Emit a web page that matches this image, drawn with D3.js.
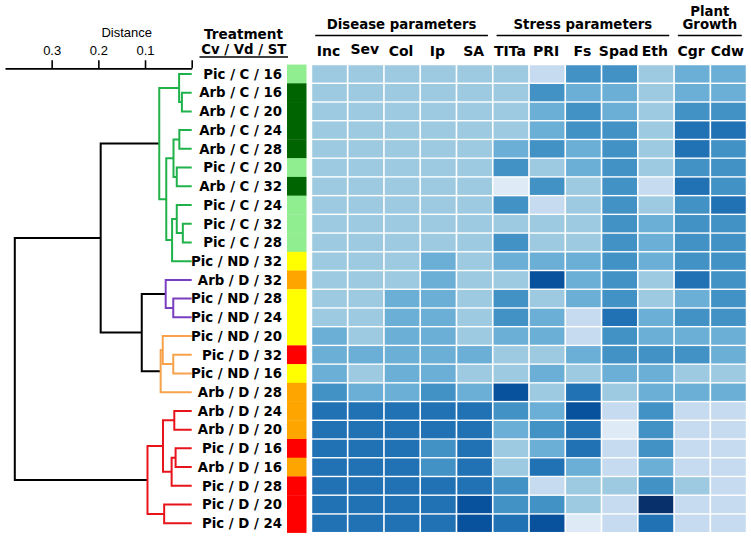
<!DOCTYPE html>
<html>
<head>
<meta charset="utf-8">
<script src="https://cdn.jsdelivr.net/npm/d3@7"></script>
<style>
  html, body { margin: 0; padding: 0; background: #fff; }
  svg { display: block; }
</style>
</head>
<body>
<svg id="chart" width="751" height="537"></svg>
<script>
// ---------------- DATA ----------------
const treatments = [
  "Pic / C / 16", "Arb / C / 16", "Arb / C / 20", "Arb / C / 24", "Arb / C / 28",
  "Pic / C / 20", "Arb / C / 32", "Pic / C / 24", "Pic / C / 32", "Pic / C / 28",
  "Pic / ND / 32", "Arb / D / 32", "Pic / ND / 28", "Pic / ND / 24", "Pic / ND / 20",
  "Pic / D / 32", "Pic / ND / 16", "Arb / D / 28", "Arb / D / 24", "Arb / D / 20",
  "Pic / D / 16", "Arb / D / 16", "Pic / D / 28", "Pic / D / 20", "Pic / D / 24"
];
const parameters = ["Inc", "Sev", "Col", "Ip", "SA", "TITa", "PRI", "Fs", "Spad", "Eth", "Cgr", "Cdw"];
const groups = [
  { label: ["Disease parameters"], from: "Inc", to: "SA" },
  { label: ["Stress parameters"], from: "TITa", to: "Eth" },
  { label: ["Plant", "Growth"], from: "Cgr", to: "Cdw" }
];
// colour class (0 = lightest ... 7 = darkest) of each cell, one array per parameter, rows in treatment order
const Inc  = [2,2,2,2,2,2,2,2,2,2,2,2,2,2,3,3,3,4,5,5,5,5,5,5,5];
const Sev  = [2,2,2,2,2,2,2,2,2,2,2,2,2,2,2,3,2,3,5,5,5,5,5,5,5];
const Col  = [2,2,2,2,2,2,2,2,2,2,2,2,3,3,3,3,3,3,5,5,5,5,5,5,5];
const Ip   = [2,2,2,2,2,2,2,2,2,2,3,3,3,3,3,3,3,4,5,5,4,4,5,5,5];
const SA   = [2,2,2,2,2,2,2,2,2,2,2,2,2,2,2,3,2,3,5,5,5,5,5,6,6];
const TITa = [2,2,2,2,3,4,0,4,2,4,3,2,4,4,3,2,2,6,4,3,2,2,4,4,5];
const PRI  = [1,4,3,3,4,2,4,1,2,2,3,6,2,3,3,2,3,2,3,4,3,5,1,4,6];
const Fs   = [4,3,4,4,3,3,2,2,2,2,3,3,3,1,1,3,2,5,6,5,5,3,2,2,0];
const Spad = [4,3,3,4,4,4,4,4,4,4,4,4,4,5,4,4,3,2,1,0,1,1,2,1,1];
const Eth  = [2,2,2,2,2,2,1,2,3,3,3,2,2,3,3,4,3,3,4,4,4,3,4,7,5];
const Cgr  = [3,3,4,5,5,4,5,4,4,4,4,5,3,4,3,4,2,3,1,1,1,1,2,1,1];
const Cdw  = [3,3,4,5,4,4,4,5,4,4,4,4,4,4,3,3,2,3,1,1,1,1,1,1,1];
const values = { Inc, Sev, Col, Ip, SA, TITa, PRI, Fs, Spad, Eth, Cgr, Cdw };

// treatment strip classes (Cv / Vd)
const stripClasses = ["Pic / C", "Arb / C", "Pic / ND", "Arb / D", "Pic / D"];
const stripColors = ["#90ee90", "#006400", "#ffff00", "#ffa500", "#ff0000"];

// hierarchical clustering (merge name, first child, second child, distance)
const linkage = [
  ["a1", "Arb / C / 16", "Arb / C / 20", 0.021],
  ["a2", "Pic / C / 16", "a1", 0.027],
  ["a3", "Arb / C / 24", "Arb / C / 28", 0.0265],
  ["a4", "Pic / C / 20", "Arb / C / 32", 0.032],
  ["a5", "a3", "a4", 0.039],
  ["a6", "Pic / C / 32", "Pic / C / 28", 0.019],
  ["a7", "Pic / C / 24", "a6", 0.032],
  ["a8", "a7", "Pic / ND / 32", 0.042],
  ["a9", "a5", "a8", 0.0545],
  ["G",  "a2", "a9", 0.0695],
  ["p1", "Pic / ND / 28", "Pic / ND / 24", 0.0395],
  ["P",  "Arb / D / 32", "p1", 0.0557],
  ["o1", "Pic / D / 32", "Pic / ND / 16", 0.0395],
  ["o2", "Pic / ND / 20", "o1", 0.062],
  ["O",  "o2", "Arb / D / 28", 0.0665],
  ["PO", "P", "O", 0.107],
  ["GPO","G", "PO", 0.195],
  ["r1", "Arb / D / 24", "Arb / D / 20", 0.0373],
  ["r2", "Pic / D / 16", "Arb / D / 16", 0.0345],
  ["r3", "r2", "Pic / D / 28", 0.043],
  ["r4", "r1", "r3", 0.0615],
  ["r5", "Pic / D / 20", "Pic / D / 24", 0.059],
  ["R",  "r4", "r5", 0.0947],
  ["root","GPO", "R", 0.379]
];
const clusterRoots = ["G", "P", "O", "R"];
const clusterColors = ["#1fb24a", "#7a3fc0", "#f7a24b", "#e8141c"];

const distanceTicks = [0, 0.1, 0.2, 0.3];

// ---------------- DRAW ----------------
const svg = d3.select("#chart");
const boldFont = "'DejaVu Sans', Verdana, sans-serif";

const y = d3.scaleBand().domain(treatments).range([64.6, 532.6]).paddingInner(0.075).paddingOuter(0.035);
const yRow = d3.scaleBand().domain(treatments).range([64.6, 532.6]);
const x = d3.scaleBand().domain(parameters).range([311.5, 746.5]).paddingInner(0.045).paddingOuter(0.02);
const color = d3.scaleOrdinal().domain(d3.range(8)).range(d3.schemeBlues[9].slice(1));
const xd = d3.scaleLinear().domain([0, 0.4]).range([191.7, 5]);

// heatmap cells
const cells = [];
parameters.forEach(p => treatments.forEach((t, i) => cells.push({ p, t, v: values[p][i] })));
svg.append("g").selectAll("rect").data(cells).join("rect")
  .attr("x", d => x(d.p)).attr("y", d => y(d.t))
  .attr("width", x.bandwidth()).attr("height", y.bandwidth())
  .attr("fill", d => color(d.v));

// treatment colour strip
const stripScale = d3.scaleOrdinal().domain(stripClasses).range(stripColors);
svg.append("g").selectAll("rect").data(treatments).join("rect")
  .attr("x", 287).attr("width", 19.5)
  .attr("y", d => yRow(d)).attr("height", yRow.bandwidth() + 0.3)
  .attr("fill", d => stripScale(d.split(" / ").slice(0, 2).join(" / ")));

// row labels
svg.append("g").selectAll("text").data(treatments).join("text")
  .attr("x", 282).attr("y", d => yRow(d) + yRow.bandwidth() / 2)
  .attr("dy", "0.36em").attr("text-anchor", "end")
  .style("font-family", boldFont).style("font-weight", "bold").style("font-size", "13.3px")
  .text(d => d);

// column labels
svg.append("g").selectAll("text").data(parameters).join("text")
  .attr("x", d => x(d) + x.bandwidth() / 2 - 1)
  .attr("y", d => d === "Sev" ? 53.5 : 55.5)
  .attr("text-anchor", "middle")
  .style("font-family", boldFont).style("font-weight", "bold").style("font-size", "14px")
  .text(d => d);

// group headers
const gh = svg.append("g");
groups.forEach(g => {
  const x0 = x(g.from) + 3, x1 = x(g.to) + x.bandwidth() - 4;
  gh.append("line").attr("x1", x0).attr("x2", x1).attr("y1", 35.5).attr("y2", 35.5)
    .attr("stroke", "#000").attr("stroke-width", 1.6);
  g.label.forEach((l, k) => {
    gh.append("text").attr("x", (x0 + x1) / 2).attr("y", 29 - (g.label.length - 1 - k) * 13.5)
      .attr("text-anchor", "middle")
      .style("font-family", boldFont).style("font-weight", "bold").style("font-size", "13.3px")
      .text(l);
  });
});

// Treatment header
svg.append("text").attr("x", 243.5).attr("y", 38.5).attr("text-anchor", "middle")
  .style("font-family", boldFont).style("font-weight", "bold").style("font-size", "13.6px")
  .text("Treatment");
svg.append("text").attr("x", 243.8).attr("y", 54).attr("text-anchor", "middle")
  .style("font-family", boldFont).style("font-weight", "bold").style("font-size", "13.3px")
  .text("Cv / Vd / ST");
svg.append("line").attr("x1", 199.5).attr("x2", 288).attr("y1", 57).attr("y2", 57)
  .attr("stroke", "#000").attr("stroke-width", 1.3);

// distance axis
const axis = svg.append("g").attr("transform", "translate(0,68.3)")
  .call(d3.axisTop(xd).tickValues(distanceTicks).tickFormat(d => d === 0 ? "" : d3.format(".1f")(d))
    .tickSize(8).tickSizeOuter(0).tickPadding(5));
axis.select(".domain").attr("stroke-width", 1.8);
axis.selectAll(".tick line").attr("stroke-width", 1.6);
axis.selectAll(".tick text").style("font-family", "'Liberation Sans', Arial, sans-serif")
  .style("font-size", "13px").attr("fill", "#000");
svg.append("text").attr("x", 126.7).attr("y", 37).attr("text-anchor", "middle")
  .style("font-family", "'Liberation Sans', Arial, sans-serif").style("font-size", "13px")
  .text("Distance");

// dendrogram via d3.hierarchy
const merges = new Map(linkage.map(r => [r[0], r]));
function build(name) {
  const m = merges.get(name);
  if (!m) return { name, height: 0 };
  return { name, height: m[3], children: [build(m[1]), build(m[2])] };
}
const root = d3.hierarchy(build("root"));
root.eachAfter(n => {
  n.dh = n.data.height;
  n.py = n.children ? d3.mean(n.children, c => c.py) : yRow(n.data.name) + yRow.bandwidth() / 2;
});
root.each(n => {
  n.col = "#000";
  let a = n;
  while (a) {
    const k = clusterRoots.indexOf(a.data.name);
    if (k >= 0) { n.col = clusterColors[k]; break; }
    a = a.parent;
  }
});
const dg = svg.append("g").attr("fill", "none").attr("stroke-width", 2).attr("stroke-linecap", "square");
root.descendants().filter(n => n.children).forEach(n => {
  const xn = xd(n.dh);
  const [c1, c2] = n.children;
  dg.append("path")
    .attr("d", `M${xd(c1.dh)},${c1.py}H${xn}V${c2.py}H${xd(c2.dh)}`)
    .attr("stroke", n.col).attr("stroke-linecap", "butt").attr("stroke-linejoin", "miter");
});
</script>
</body>
</html>
